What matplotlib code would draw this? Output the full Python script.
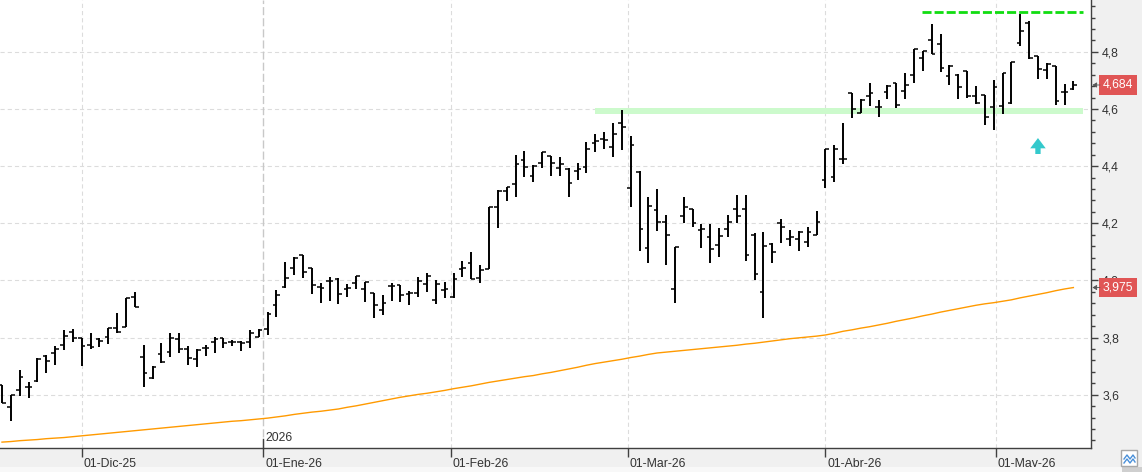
import numpy as np
import pandas as pd
import matplotlib
matplotlib.use("Agg")
import matplotlib.pyplot as plt
import matplotlib.transforms as mtransforms
from matplotlib.ticker import FixedLocator, MultipleLocator, FuncFormatter
from matplotlib.patches import Rectangle, FancyArrow
from matplotlib.lines import Line2D

plt.rcParams["font.family"] = ["Liberation Sans", "DejaVu Sans"]
plt.rcParams["lines.scale_dashes"] = False

# ---------------- data ----------------
first_day = "2025-11-18"
last_day = "2026-05-14"
holidays = ["2025-12-25", "2025-12-26", "2026-01-01", "2026-04-03", "2026-04-06", "2026-05-01"]
month_starts = ["2025-12-01", "2026-01-01", "2026-02-01", "2026-03-01", "2026-04-01", "2026-05-01"]
month_labels = ["01-Dic-25", "01-Ene-26", "01-Feb-26", "01-Mar-26", "01-Abr-26", "01-May-26"]
year_date = "2026-01-01"
year_label = "2026"

opens = [3.634, 3.558, 3.617, 3.626, 3.648, 3.736, 3.747, 3.774, 3.821, 3.797,
         3.774, 3.795, 3.801, 3.832, 3.838, 3.943, 3.733, 3.657, 3.743, 3.751,
         3.794, 3.759, 3.724, 3.765, 3.786, 3.797, 3.786, 3.786, 3.786, 3.803,
         3.829, 3.914, 3.978, 4.042, 4.089, 4.042, 3.978, 3.998, 4.004, 3.969,
         3.992, 3.969, 3.957, 3.896, 3.981, 3.984, 3.953, 3.955, 3.988, 3.932,
         3.967, 3.941, 4.039, 4.060, 4.007, 4.039, 4.256, 4.314, 4.338, 4.422,
         4.366, 4.410, 4.436, 4.392, 4.390, 4.383, 4.398, 4.482, 4.494, 4.466,
         4.550, 4.322, 4.381, 4.112, 4.246, 4.203, 3.969, 4.225, 4.250, 4.177,
         4.151, 4.124, 4.179, 4.249, 4.249, 4.159, 3.958, 4.128, 4.200, 4.144,
         4.144, 4.133, 4.159, 4.352, 4.361, 4.424, 4.657, 4.585, 4.647, 4.606,
         4.661, 4.690, 4.664, 4.719, 4.777, 4.842, 4.828, 4.717, 4.719, 4.733,
         4.646, 4.649, 4.606, 4.611, 4.620, 4.830, 4.902, 4.786, 4.737, 4.751,
         4.658, 4.669]
highs = [3.634, 3.599, 3.687, 3.643, 3.727, 3.739, 3.771, 3.827, 3.829, 3.800,
         3.815, 3.797, 3.832, 3.887, 3.937, 3.958, 3.774, 3.700, 3.780, 3.817,
         3.815, 3.771, 3.759, 3.774, 3.803, 3.797, 3.792, 3.788, 3.827, 3.829,
         3.889, 3.966, 4.066, 4.081, 4.089, 4.042, 3.992, 4.011, 4.007, 3.988,
         4.016, 3.993, 3.957, 3.949, 3.992, 3.984, 3.964, 4.011, 4.027, 4.002,
         3.996, 4.025, 4.069, 4.098, 4.054, 4.256, 4.317, 4.326, 4.439, 4.453,
         4.404, 4.448, 4.436, 4.431, 4.392, 4.412, 4.483, 4.513, 4.518, 4.550,
         4.597, 4.506, 4.383, 4.291, 4.319, 4.229, 4.118, 4.291, 4.250, 4.198,
         4.198, 4.182, 4.229, 4.299, 4.299, 4.165, 4.168, 4.132, 4.215, 4.177,
         4.173, 4.186, 4.243, 4.459, 4.474, 4.552, 4.657, 4.634, 4.690, 4.632,
         4.684, 4.690, 4.725, 4.809, 4.804, 4.898, 4.861, 4.754, 4.723, 4.733,
         4.681, 4.649, 4.702, 4.727, 4.766, 4.933, 4.909, 4.787, 4.760, 4.751,
         4.688, 4.698]
lows = [3.571, 3.509, 3.596, 3.590, 3.646, 3.675, 3.704, 3.757, 3.786, 3.702,
        3.759, 3.768, 3.778, 3.817, 3.838, 3.908, 3.628, 3.654, 3.712, 3.733,
        3.747, 3.704, 3.698, 3.736, 3.747, 3.762, 3.771, 3.753, 3.762, 3.803,
        3.809, 3.873, 3.972, 4.019, 4.007, 3.953, 3.922, 3.929, 3.918, 3.941,
        3.969, 3.926, 3.867, 3.879, 3.929, 3.926, 3.914, 3.941, 3.961, 3.918,
        3.937, 3.937, 4.011, 4.004, 3.992, 4.039, 4.182, 4.279, 4.293, 4.363,
        4.346, 4.392, 4.366, 4.366, 4.293, 4.352, 4.377, 4.451, 4.460, 4.433,
        4.457, 4.258, 4.104, 4.062, 4.174, 4.054, 3.922, 4.202, 4.186, 4.112,
        4.062, 4.081, 4.151, 4.202, 4.069, 4.002, 3.870, 4.060, 4.132, 4.122,
        4.104, 4.118, 4.159, 4.322, 4.346, 4.406, 4.567, 4.585, 4.611, 4.571,
        4.634, 4.602, 4.634, 4.692, 4.734, 4.793, 4.731, 4.684, 4.635, 4.637,
        4.616, 4.544, 4.527, 4.583, 4.618, 4.821, 4.775, 4.704, 4.704, 4.614,
        4.614, 4.667]
closes = [3.571, 3.599, 3.661, 3.626, 3.724, 3.719, 3.759, 3.806, 3.797, 3.771,
          3.766, 3.789, 3.832, 3.820, 3.937, 3.908, 3.675, 3.698, 3.716, 3.797,
          3.759, 3.727, 3.757, 3.765, 3.794, 3.782, 3.786, 3.782, 3.815, 3.827,
          3.882, 3.949, 4.007, 4.077, 4.028, 3.984, 3.975, 3.999, 3.953, 3.972,
          4.016, 3.993, 3.914, 3.920, 3.981, 3.949, 3.955, 3.999, 4.016, 3.988,
          3.969, 4.004, 4.042, 4.004, 4.037, 4.256, 4.314, 4.326, 4.408, 4.396,
          4.401, 4.448, 4.410, 4.408, 4.340, 4.389, 4.459, 4.488, 4.492, 4.511,
          4.536, 4.474, 4.179, 4.260, 4.203, 4.159, 4.116, 4.256, 4.200, 4.179,
          4.109, 4.156, 4.203, 4.225, 4.089, 4.023, 4.121, 4.101, 4.186, 4.151,
          4.168, 4.168, 4.203, 4.459, 4.459, 4.424, 4.600, 4.632, 4.657, 4.608,
          4.681, 4.614, 4.684, 4.809, 4.804, 4.793, 4.742, 4.751, 4.676, 4.646,
          4.620, 4.571, 4.676, 4.725, 4.763, 4.873, 4.777, 4.739, 4.758, 4.628,
          4.658, 4.684]
ma = [3.434, 3.436, 3.439, 3.441, 3.443, 3.446, 3.448, 3.450, 3.453, 3.456,
      3.459, 3.462, 3.465, 3.468, 3.471, 3.474, 3.477, 3.480, 3.483, 3.486,
      3.489, 3.492, 3.495, 3.498, 3.501, 3.504, 3.507, 3.509, 3.512, 3.515,
      3.518, 3.522, 3.526, 3.531, 3.535, 3.539, 3.542, 3.546, 3.550, 3.556,
      3.561, 3.567, 3.573, 3.579, 3.585, 3.591, 3.596, 3.601, 3.605, 3.610,
      3.615, 3.621, 3.626, 3.631, 3.637, 3.643, 3.648, 3.653, 3.658, 3.663,
      3.667, 3.673, 3.678, 3.684, 3.690, 3.696, 3.703, 3.709, 3.714, 3.719,
      3.724, 3.730, 3.735, 3.741, 3.746, 3.749, 3.752, 3.755, 3.758, 3.761,
      3.764, 3.767, 3.770, 3.773, 3.777, 3.780, 3.784, 3.788, 3.792, 3.796,
      3.799, 3.802, 3.805, 3.809, 3.815, 3.822, 3.827, 3.833, 3.838, 3.844,
      3.850, 3.857, 3.863, 3.869, 3.876, 3.882, 3.889, 3.895, 3.901, 3.907,
      3.913, 3.918, 3.922, 3.927, 3.932, 3.939, 3.945, 3.951, 3.957, 3.964,
      3.970, 3.975]

# annotation levels
resistance_level = 4.938
support_low, support_high = 4.5825, 4.6025
arrow_base, arrow_tip = 4.4425, 4.4983

# ---------------- layout / positions ----------------
resistance_span = (103.9, 122.05)
support_span = (67.0, 122.05)
arrow_bar = 117
xlim = (-0.226, 122.99)
ylim = (3.4134, 4.9815)

W, H = 1142, 472
fig = plt.figure(figsize=(W / 100, H / 100), dpi=100, facecolor="#f0f0f0")
ax = fig.add_axes([0, 24 / H, 1091 / W, 448 / H])
ax.set_facecolor("white")

dates = pd.bdate_range(first_day, last_day, freq="C", holidays=holidays)
idx = np.arange(len(dates))
ords = dates.map(pd.Timestamp.toordinal).to_numpy()
month_pos = [np.interp(pd.Timestamp(d).toordinal(), ords, idx) for d in month_starts]
year_pos = np.interp(pd.Timestamp(year_date).toordinal(), ords, idx)

o = np.array(opens); h = np.array(highs); l = np.array(lows); c = np.array(closes)

# grid
for yv in np.arange(3.6, 4.81, 0.2):
    ax.axhline(yv, color="#dcdcdc", lw=0.8, ls=(0, (3.0, 2.2)), zorder=0)
for mp, lab in zip(month_pos, month_labels):
    if abs(mp - year_pos) < 1e-6:
        ax.axvline(mp, color="#c8c8c8", lw=1.0, ls=(0, (5.8, 2.2)), zorder=0)
    else:
        ax.axvline(mp, color="#dcdcdc", lw=0.8, ls=(0, (3.0, 2.2)), zorder=0)

# support band & resistance
ax.fill_between(support_span, support_low, support_high, color="#ccfacc", lw=0, zorder=1)
ax.plot(resistance_span, [resistance_level] * 2, color="#11dd11", lw=2.0,
        ls=(0, (6.5, 2.2)), solid_capstyle="butt", dash_capstyle="butt", zorder=2)

# moving average
ax.plot(idx, ma, color="#ff9a00", lw=1.0, zorder=2)

# OHLC bars
ax.vlines(idx, l, h, color="black", lw=1.4, zorder=3, capstyle="butt")
ax.hlines(o, idx - 0.42, idx, color="black", lw=1.1, zorder=3)
ax.hlines(c, idx, idx + 0.42, color="black", lw=1.1, zorder=3)

# arrow
ax.add_patch(FancyArrow(arrow_bar, arrow_base, 0, arrow_tip - arrow_base,
                        width=0.6, head_width=1.75, head_length=0.036,
                        length_includes_head=True, color="#33c9cc", lw=0, zorder=4))

ax.set_xlim(*xlim)
ax.set_ylim(*ylim)

# spines
for s in ["top", "left"]:
    ax.spines[s].set_visible(False)
ax.spines["right"].set_color("#404040")
ax.spines["bottom"].set_color("#404040")
ax.spines["right"].set_linewidth(1.0)
ax.spines["bottom"].set_linewidth(1.0)

# y axis on right
ax.yaxis.tick_right()
ax.yaxis.set_major_locator(MultipleLocator(0.2))
ax.yaxis.set_minor_locator(MultipleLocator(0.04))
ax.yaxis.set_major_formatter(FuncFormatter(lambda v, p: f"{v:.1f}".replace(".", ",")))
ax.tick_params(axis="y", which="major", length=5, width=1, color="#404040",
               labelsize=8.8, labelcolor="#333333", pad=3)
ax.tick_params(axis="y", which="minor", length=3, width=1, color="#404040")
ax.tick_params(axis="y", which="both", left=False, right=True)

# x axis
ax.xaxis.set_major_locator(FixedLocator(month_pos))
ax.set_xticklabels(month_labels)
ax.tick_params(axis="x", which="major", length=6.5, width=1, color="#404040",
               labelsize=8.8, labelcolor="#333333", pad=0.5)
off = mtransforms.ScaledTranslation(2 / 100, 0, fig.dpi_scale_trans)
for lbl in ax.get_xticklabels():
    lbl.set_horizontalalignment("left")
    lbl.set_transform(lbl.get_transform() + off)

# year marker
bt = mtransforms.blended_transform_factory(ax.transData, ax.transAxes)
ax.plot([year_pos, year_pos], [0, 9 / 448], color="#404040", lw=1.0, transform=bt,
        clip_on=False, zorder=5)
ax.text(year_pos, 4 / 448, year_label, transform=bt + off, ha="left", va="bottom",
        fontsize=8.8, color="#333333")

# right price labels (drawn over the tick labels, as in the reference)
for val in [closes[-1], ma[-1]]:
    ax.annotate(f"{val:.3f}".replace(".", ","), xy=(1, val),
                xycoords=("axes fraction", "data"), xytext=(12, 0),
                textcoords="offset pixels", ha="left", va="center",
                fontsize=8.8, color="white", annotation_clip=False, zorder=10,
                bbox=dict(boxstyle="square,pad=0.3", fc="#e05555", ec="none"))
    ax.annotate("", xy=(1, val), xycoords=("axes fraction", "data"),
                xytext=(9, 0), textcoords="offset pixels",
                arrowprops=dict(arrowstyle="-|>,head_length=0.25,head_width=0.15",
                                color="#555555", lw=0.6, shrinkA=0, shrinkB=1),
                annotation_clip=False, zorder=10)

# bottom scrollbar strip and corner icon (figure pixels)
fig.patches.append(Rectangle((0, 0), 1, 5 / H, transform=fig.transFigure,
                             fc="#f8f8f8", ec="none", zorder=0))
fig.patches.append(Rectangle((1122 / W, 0), 20 / W, 5 / H, transform=fig.transFigure,
                             fc="#cfcfcf", ec="none", zorder=1))
fig.patches.append(Rectangle((1121 / W, 6 / H), 16 / W, 16 / H, transform=fig.transFigure,
                             fc="white", ec="#a8a8a8", lw=1.0, zorder=2))
icon_x = np.array([1124, 1127, 1130, 1133, 1135]) / W
icon_y1 = np.array([13, 17, 13, 17, 14]) / H
icon_y2 = icon_y1 - 4 / H
fig.lines.append(Line2D(icon_x, icon_y1, transform=fig.transFigure, color="#4a90d9",
                        lw=1.0, zorder=6))
fig.lines.append(Line2D(icon_x, icon_y2, transform=fig.transFigure, color="#4a90d9",
                        lw=1.0, zorder=6))

fig.savefig("out.png", dpi=100, facecolor=fig.get_facecolor())
